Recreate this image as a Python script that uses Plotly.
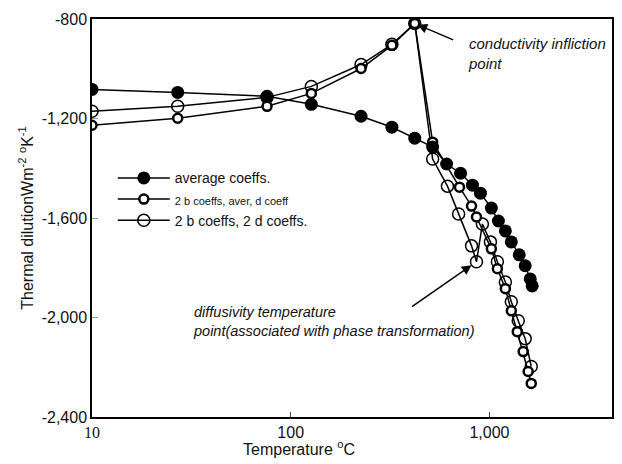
import plotly.graph_objects as go

# Temperature (°C) and thermal dilution values
t_avg = [10, 27, 76, 127, 226, 323, 421, 518, 609, 716, 822, 901, 1023, 1110, 1203, 1289, 1413, 1514, 1605, 1642]
v_avg = [-1083, -1095, -1111, -1143, -1191, -1235, -1279, -1315, -1383, -1420, -1468, -1500, -1560, -1612, -1652, -1696, -1748, -1792, -1845, -1873]

t_b2_aver = [10, 27, 76, 127, 226, 323, 421, 518, 707, 813, 861, 1023, 1097, 1203, 1289, 1381, 1479, 1567, 1624]
v_b2_aver = [-1227, -1199, -1151, -1099, -999, -906, -818, -1295, -1476, -1552, -1596, -1724, -1804, -1884, -1973, -2057, -2137, -2217, -2265]

t_b2_d2 = [10, 27, 76, 127, 226, 323, 421, 518, 615, 700, 813, 861, 922, 1012, 1097, 1203, 1289, 1397, 1514, 1624]
v_b2_d2 = [-1171, -1151, -1115, -1071, -983, -902, -818, -1363, -1472, -1584, -1712, -1776, -1624, -1696, -1776, -1857, -1937, -2013, -2085, -2197]

x_tickvals = [10, 100, 1000]
x_ticktext = ["<span style='font-family:Liberation Serif, Times New Roman, serif'>10</span>", "100", "1,000"]
y_tickvals = [-800, -1200, -1600, -2000, -2400]
y_ticktext = ["-800", "-1,200", "-1,600", "-2,000", "-2,400"]

FONT = "Arial, Liberation Sans, Helvetica, sans-serif"

fig = go.Figure()

fig.add_trace(go.Scatter(
    x=t_b2_d2, y=v_b2_d2, mode="lines+markers",
    name="2 b coeffs, 2 d coeffs.", legendrank=3,
    line=dict(color="black", width=1.5),
    marker=dict(symbol="circle-open", size=12, color="black", line=dict(width=1.5, color="black")),
))
fig.add_trace(go.Scatter(
    x=t_b2_aver, y=v_b2_aver, mode="lines+markers",
    name="<span style='font-size:11px'>2 b coeffs, aver, d coeff</span>", legendrank=2,
    line=dict(color="black", width=1.5),
    marker=dict(symbol="circle", size=9, color="white", line=dict(width=2.5, color="black")),
))
fig.add_trace(go.Scatter(
    x=t_avg, y=v_avg, mode="lines+markers",
    name="average coeffs.", legendrank=1,
    line=dict(color="black", width=1.5),
    marker=dict(symbol="circle", size=13, color="black", line=dict(width=0)),
))

fig.update_layout(
    width=622, height=464,
    margin=dict(l=92, r=8, t=19, b=47),
    paper_bgcolor="white", plot_bgcolor="white",
    font=dict(family=FONT, size=16, color="#111"),
    showlegend=True,
    legend=dict(x=0.04, y=0.64, xanchor="left", yanchor="top",
                bgcolor="rgba(0,0,0,0)", font=dict(size=14, color="#111"),
                tracegroupgap=0, itemwidth=52),
    xaxis=dict(type="log", range=[1, 3.617],
               tickvals=x_tickvals, ticktext=x_ticktext,
               ticks="inside", ticklen=5, tickcolor="#444", tickwidth=1,
               showgrid=False, zeroline=False,
               showline=True, linecolor="black", linewidth=1.5, mirror=True,
               tickfont=dict(size=16)),
    yaxis=dict(range=[-2400, -800],
               tickvals=y_tickvals, ticktext=y_ticktext,
               ticks="inside", ticklen=6, tickcolor="#999", tickwidth=1,
               showgrid=False, zeroline=False,
               showline=True, linecolor="black", linewidth=1.5, mirror=True,
               tickfont=dict(size=16),
               title=dict(text="Thermal dilutionWm<sup>-2</sup> <sup>o</sup>K<sup>-1</sup>",
                          font=dict(size=16), standoff=4)),
)

fig.add_annotation(
    x=0.398, y=-0.077, xref="paper", yref="paper",
    text="Temperature <sup>o</sup>C", showarrow=False,
    xanchor="center", yanchor="middle", font=dict(size=16))

# arrow to conductivity inflection point
fig.add_annotation(
    x=2.624, y=-818, xref="x", yref="y",
    ax=40, ay=17,
    text="", showarrow=True, arrowhead=2, arrowsize=1.3, arrowwidth=1.5, arrowcolor="black",
    standoff=3,
)
fig.add_annotation(
    x=0.72, y=0.966, xref="paper", yref="paper", xanchor="left", yanchor="top",
    text="<i>conductivity infliction<br>point</i>", showarrow=False, align="left",
    font=dict(size=15),
)
# arrow to diffusivity temperature point
fig.add_annotation(
    x=2.935, y=-1776, xref="x", yref="y",
    text="", showarrow=True, arrowhead=2, arrowsize=1.3, arrowwidth=1.5, arrowcolor="black",
    ax=-66, ay=46, standoff=6,
)
fig.add_annotation(
    x=0.19, y=0.29, xref="paper", yref="paper", xanchor="left", yanchor="top",
    text="<i>diffusivity temperature<br>point(associated with phase transformation)</i>",
    showarrow=False, align="left", font=dict(size=14.5),
)

fig.write_html("out.html")
